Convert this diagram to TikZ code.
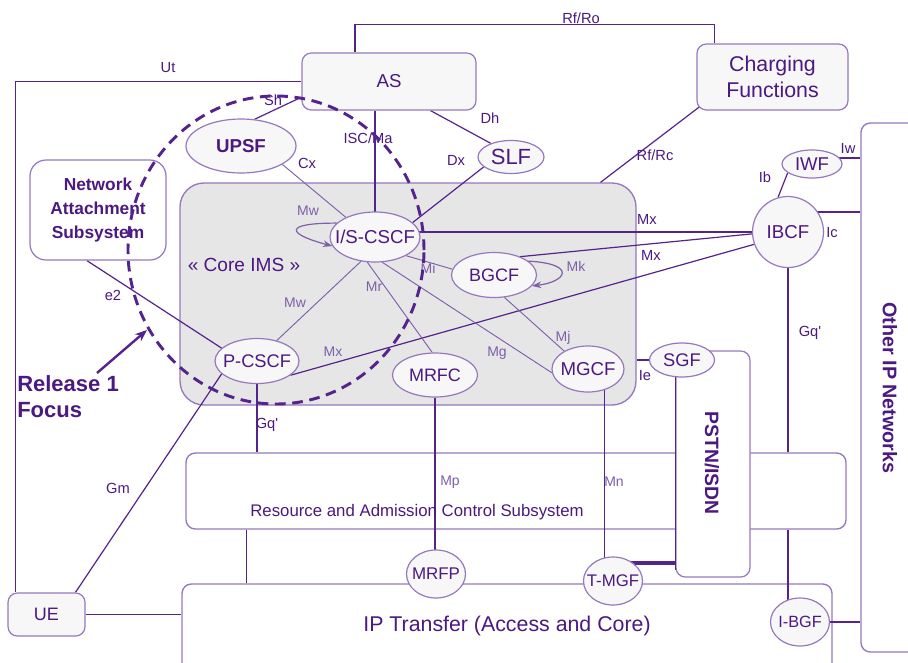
\documentclass[tikz,border=0pt]{standalone}
\usepackage{fontspec}
\setmainfont{Liberation Sans}
\usetikzlibrary{shapes.geometric,calc,arrows.meta}
\definecolor{ptext}{RGB}{75,25,128}
\definecolor{pline}{RGB}{85,35,140}
\definecolor{pborder}{RGB}{150,120,190}
\definecolor{pthin}{RGB}{125,95,170}
\definecolor{boxfill}{RGB}{247,247,247}
\definecolor{corefill}{RGB}{230,230,230}
\pgfdeclarelayer{back}
\pgfdeclarelayer{lines}
\pgfsetlayers{back,lines,main}
\newcommand{\zbox}[1]{\makebox[0pt][c]{#1}}
\newcommand{\fsz}[2]{\fontsize{#1}{#2}\selectfont}
\begin{document}
\begin{tikzpicture}[x=0.75pt,y=-0.75pt,
  sz/.style 2 args={minimum width=#1*0.75pt, minimum height=#2*0.75pt},
  rbox/.style={draw=pborder, fill=boxfill, rounded corners=7pt, line width=0.9pt, inner sep=0pt, align=center, text=ptext},
  bigbox/.style={draw=pborder, fill=white, rounded corners=7pt, line width=1pt, inner sep=0pt},
  ell/.style={ellipse, draw=pborder, fill=boxfill, line width=0.9pt, inner sep=0pt, text=ptext},
  txt/.style={text=ptext, inner sep=0pt},
  link/.style={draw=pline, line width=1.2pt},
  mid/.style={draw=pline, line width=0.9pt},
  thinl/.style={draw=pthin, line width=0.7pt},
  lab/.style={text=ptext, font=\fsz{11}{12}, inner sep=0pt},
  ilab/.style={text=pthin, font=\fsz{10.5}{12}, inner sep=0pt}
]
\useasboundingbox (0,0) rectangle (908,662);
\begin{pgfonlayer}{back}
  \fill[white] (0,0) rectangle (908,662);
  \node[draw=pborder, fill=corefill, rounded corners=18pt, line width=1pt, sz={456}{222}] (core) at (408,294) {};
  \node[bigbox, sz={660}{76}] (racs) at (516,491) {};
  \node[bigbox, sz={650}{106}] (ip) at (507,637) {};
  \node[bigbox, sz={69}{529}] (oip) at (895.5,387.5) {};
\end{pgfonlayer}

% boxes
\node[rbox, sz={174}{57}, font=\fsz{14}{16}] (as) at (389,81.5) {AS};
\node[rbox, sz={151}{66}, font=\fsz{16}{19}] (chg) at (772.5,77) {Charging\\Functions};
\node[rbox, sz={136}{100}, rounded corners=12pt, fill=white, font=\bfseries\fsz{13}{18}] (nas) at (98,210) {Network\\Attachment\\Subsystem};
\node[rbox, sz={77}{43}, font=\fsz{13.5}{16}] (ue) at (46.5,614.5) {UE};
\node[rbox, fill=white, sz={74}{226}] (pstn) at (713,464) {};
\draw[link] (pstn.north west) -- ($(pstn.south west)+(0,-8)$);

% ellipses
\node[ell, sz={110}{54}, font=\bfseries\fsz{14}{16}] (upsf) at (241,146) {\zbox{UPSF}};
\node[ell, sz={66}{33}, font=\fsz{16.5}{18}] (slf) at (511,157) {\zbox{SLF}};
\node[ell, sz={90}{50}, font=\fsz{14}{16}] (iscscf) at (375,237) {\zbox{I/S-CSCF}};
\node[ell, sz={84}{45}, font=\fsz{13.7}{16}] (pcscf) at (257,361) {\zbox{P-CSCF}};
\node[ell, sz={85}{44}, font=\fsz{13.5}{16}] (mrfc) at (435,375) {\zbox{MRFC}};
\node[ell, sz={85}{45}, font=\fsz{13.5}{16}] (bgcf) at (494,275) {\zbox{BGCF}};
\node[ell, sz={72}{46}, font=\fsz{14}{16}] (mgcf) at (588,369) {\zbox{MGCF}};
\node[ell, sz={65}{34}, font=\fsz{13.7}{16}] (sgf) at (682,360) {\zbox{SGF}};
\node[ell, sz={60}{28}, font=\fsz{13.9}{16}] (iwf) at (812,164) {\zbox{IWF}};
\node[ell, sz={71}{71}, font=\fsz{14}{16}] (ibcf) at (788,232) {\zbox{IBCF}};
\node[ell, sz={59}{48}, font=\fsz{12.7}{15}] (mrfp) at (436,574) {\zbox{MRFP}};
\node[ell, sz={59}{48}, font=\fsz{12.6}{15}] (tmgf) at (613,581) {\zbox{T-MGF}};
\node[ell, sz={59}{48}, font=\fsz{12.2}{15}] (ibgf) at (800,622) {\zbox{I-BGF}};

% texts
\node[txt, font=\fsz{14.3}{16}] (coret) at (244,265) {« Core IMS »};
\node[txt, font=\fsz{12.6}{15}] (racst) at (417,512) {Resource and Admission Control Subsystem};
\node[txt, font=\fsz{16}{18}] (ipt) at (507,626) {IP Transfer (Access and Core)};
\node[txt, font=\bfseries\fsz{14.5}{16}, rotate=-90] (pstnt) at (712,463) {PSTN/ISDN};
\node[txt, font=\bfseries\fsz{14.8}{16}, rotate=-90] (oipt) at (890,388) {Other IP Networks};
\node[txt, font=\bfseries\fsz{16.5}{19.5}, align=left, anchor=north west] (rel) at (17,375) {Release 1\\Focus};

\begin{pgfonlayer}{lines}
  \path ($(as.north west)!0.305!(as.north east)$) coordinate (asr)
        ($(chg.north west)!0.12!(chg.north east)$) coordinate (chr);
  \draw[link] (asr) -- ++(0,-28) -| (chr);
  \path ($(ue.north west)!0.104!(ue.north east)$) coordinate (uet);
  \draw[link] (as.west) -| (uet);
  \draw[link] (ue.east) -- (ue.east -| ip.west);
  \path ($(ue.north west)!0.87!(ue.north east)$) coordinate (ueg);
  \draw[mid] (ueg) -- (pcscf.200);
  \path ($(nas.south west)!0.419!(nas.south east)$) coordinate (nase);
  \draw[mid] (nase) -- (pcscf.160);
  \draw[link] (pcscf.south) -- (pcscf.south |- racs.north);
  \path ($(racs.south west)!0.0924!(racs.south east)$) coordinate (rb);
  \draw[link] (rb) -- (rb |- ip.north);
  \draw[mid] (mrfc.south) -- (mrfc.south |- mrfp.center);
  \draw[mid] (mgcf.-52) -- (mgcf.-52 |- tmgf.center);
  \path ($(tmgf.center)+(0,-18)$) coordinate (tm1);
  \draw[pline, line width=2.6pt] (tm1) -- (tm1 -| pstn.west);
  \draw[link] (sgf.center) -- (sgf.center -| core.east);
  \draw[link] (ibcf.center) -- (ibcf.center -| iscscf.center);
  \draw[mid] (bgcf.35) -- (ibcf.183);
  \draw[mid] (pcscf.-23) -- (ibcf.200);
  \path ($(ibcf.center)+(0,-20)$) coordinate (ib1);
  \draw[link] (ib1) -- (ib1 -| oip.west);
  \draw[mid] (ibcf.106) -- (iwf.200);
  \path ($(iwf.center)+(0,-6)$) coordinate (iw1);
  \draw[link] (iw1) -- (iw1 -| oip.west);
  \draw[link] (ibcf.south) -- (ibcf.south |- racs.north);
  \draw[link] (ibcf.south |- racs.south) -- (ibcf.south |- ibgf.center);
  \draw[link] (ibgf.center) -- (ibgf.center -| oip.west);
  \path ($(chg.south west)+(6,-6)$) coordinate (chs)
        ($(core.north west)!0.921!(core.north east)$) coordinate (cot);
  \draw[mid] (chs) -- (cot);
  \path ($(as.south west)!0.737!(as.south east)$) coordinate (ash);
  \draw[mid] (ash) -- (slf.146);
  \draw[mid] (slf.200) -- (iscscf.21);
  \path ($(as.north west)!0.77!(as.south west)$) coordinate (asw);
  \draw[mid] (asw) -- (upsf.63);
  \draw[thinl] (upsf.-24) -- (iscscf.146);
  \draw[link] (iscscf.center) -- (iscscf.center |- as.south);
  \draw[thinl] (iscscf.240) -- (pcscf.46);
  \draw[thinl] (iscscf.253) -- (mrfc.97);
  \draw[thinl] (iscscf.-74) -- (mgcf.186);
  \draw[thinl] (iscscf.-31) -- (bgcf.172);
  \draw[thinl] (bgcf.-65) -- (mgcf.143);
\end{pgfonlayer}

% loops
\draw[thinl, line width=0.9pt, -{Stealth[length=7pt,width=5pt]}] (iscscf.160) .. controls +(-55,0) and +(-45,-12) .. (iscscf.192);
\draw[thinl, line width=0.9pt, -{Stealth[length=7pt,width=5pt]}] (bgcf.22) .. controls (578,264) and (566,282) .. (bgcf.-16);

% labels
\node[lab] (lut) at (168,68) {Ut};
\node[lab] (lrfro) at (581,18) {Rf/Ro};
\node[lab] (lsh) at (273,100) {Sh};
\node[lab] (lisc) at (368,138) {ISC/Ma};
\node[lab] (ldh) at (490,118) {Dh};
\node[lab] (ldx) at (456,160) {Dx};
\node[lab] (lcx) at (307,163) {Cx};
\node[lab] (lrfrc) at (655,155) {Rf/Rc};
\node[lab] (liw) at (848,148) {Iw};
\node[lab] (lib) at (765,177) {Ib};
\node[lab] (lic) at (832,233) {Ic};
\node[lab] (lmx1) at (647,219) {Mx};
\node[lab] (lmx2) at (651,255) {Mx};
\node[lab] (lgq1) at (810,333) {Gq\textquotesingle};
\node[lab] (lie) at (645,376) {Ie};
\node[lab] (le2) at (113,295) {e2};
\node[lab] (lgq2) at (267,425) {Gq\textquotesingle};
\node[lab] (lgm) at (118,488) {Gm};
\node[ilab] (lmw1) at (308,211) {Mw};
\node[ilab] (lmw2) at (295,303) {Mw};
\node[ilab] (lmr) at (374,287) {Mr};
\node[ilab] (lmi) at (428,268) {Mi};
\node[ilab] (lmk) at (576,266) {Mk};
\node[ilab] (lmj) at (563,338) {Mj};
\node[ilab] (lmg) at (497,353) {Mg};
\node[ilab] (lmx3) at (333,352) {Mx};
\node[ilab] (lmp) at (450,482) {Mp};
\node[ilab] (lmn) at (614,482) {Mn};

% release 1 focus
\draw[pline, line width=2.2pt, dash pattern=on 8pt off 5pt] (276,250) ellipse [x radius=111pt, y radius=115.5pt];
\coordinate (fa) at (97,373);
\coordinate (fb) at (147,330);
\draw[pline, line width=1.8pt, -{Stealth[length=9pt,width=7pt]}] (fa) -- (fb);
\end{tikzpicture}
\end{document}
